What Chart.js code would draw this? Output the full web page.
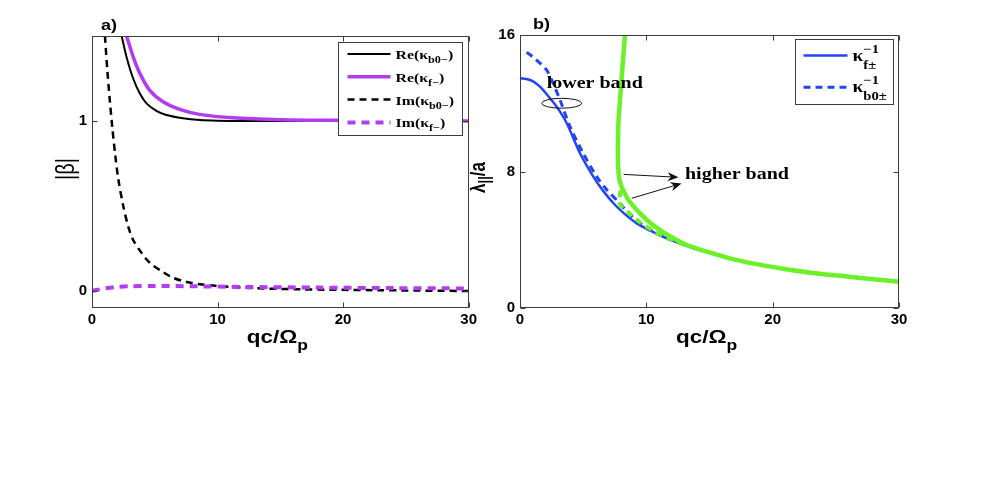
<!DOCTYPE html>
<html>
<head>
<meta charset="utf-8">
<script src="https://cdn.jsdelivr.net/npm/chart.js"></script>
<style>
  body { margin: 0; background: #fff; width: 981px; height: 491px; position: relative; overflow: hidden; }
  canvas { position: absolute; top: 0; }
  #chartA { left: 0; }
  #chartB { left: 470px; }
</style>
</head>
<body>
<canvas id="chartA" width="480" height="491"></canvas>
<canvas id="chartB" width="511" height="491"></canvas>
<script>
// ---- tick labels ----
const xTicks = [0, 10, 20, 30];
const yTicksA = [0, 1];
const yTicksB = [0, 8, 16];

// ---- panel a) |beta| vs qc/Omega_p ----
const labelsA = ['Re(κ_{b0−})', 'Re(κ_{f−})', 'Im(κ_{b0−})', 'Im(κ_{f−})'];
const qcReB0 = [2.36, 2.75, 3.28, 3.81, 4.34, 5.13, 5.93, 7.25, 8.6, 10, 12, 15, 20, 25, 30];
const reB0   = [1.50, 1.377, 1.25, 1.162, 1.104, 1.060, 1.035, 1.016, 1.006, 1.002, 1.0, 1.0, 1.0, 1.0, 1.0];
const qcReF  = [2.75, 3.28, 3.81, 4.6, 5.66, 6.98, 8.57, 11.2, 15.2, 19.1, 24, 30];
const reF    = [1.50, 1.377, 1.28, 1.18, 1.113, 1.068, 1.039, 1.019, 1.008, 1.004, 1.002, 1.0];
const qcImB0 = [1.03, 1.22, 1.42, 1.62, 1.85, 2.09, 2.49, 2.88, 3.28, 3.94, 4.6, 5.53, 6.45, 7.54, 8.6, 9.92, 12.5, 16.5, 22.4, 30];
const imB0   = [1.50, 1.30, 1.12, 0.96, 0.80, 0.66, 0.50, 0.381, 0.30, 0.225, 0.166, 0.117, 0.078, 0.053, 0.04, 0.03, 0.018, 0.01, 0.005, 0.0];
const qcImF  = [0, 0.5, 1, 2, 3, 5, 8, 12, 18, 24, 30];
const imF    = [0, 0.008, 0.015, 0.024, 0.028, 0.03, 0.028, 0.024, 0.02, 0.017, 0.015];

// ---- panel b) lambda_par/a vs qc/Omega_p ----
const labelsB = ['κ^{−1}_{f±}', 'κ^{−1}_{b0±}', 'higher band f', 'higher band b0'];
const qcFLow   = [0, 0.5, 1, 1.58, 2.2, 2.9, 3.7, 4.75, 5.8, 6.6, 7.4, 8.3, 9.24, 10.4, 11.6, 12.8, 14];
const lamFLow  = [13.46, 13.42, 13.3, 12.97, 12.45, 11.8, 10.83, 9.07, 7.7, 6.85, 6.14, 5.5, 4.96, 4.5, 4.08, 3.75, 3.45];
const qcB0Low  = [0.53, 1.2, 2.1, 2.6, 3.17, 3.96, 5.0, 6.07, 6.9, 7.9, 8.6, 9.4, 10.5, 11.7, 13, 14];
const lamB0Low = [14.99, 14.6, 13.95, 13.2, 12.19, 10.63, 9.07, 7.7, 6.9, 6.14, 5.55, 5.02, 4.5, 4.07, 3.73, 3.45];
const qcFHigh  = [8.31, 8.1, 7.9, 7.8, 7.75, 7.76, 7.85, 8.05, 8.3, 8.58, 9.0, 9.5, 10.2, 11.08, 12, 13.2, 14.8, 16.6, 18.5, 20.6, 23, 25.9, 28, 30];
const lamFHigh = [16, 14, 12, 11, 9.5, 8.5, 7.6, 7.1, 6.7, 6.33, 5.95, 5.55, 5.05, 4.57, 4.15, 3.69, 3.3, 2.91, 2.6, 2.33, 2.07, 1.84, 1.68, 1.54];
const qcB0High  = [7.95, 7.9, 8.6, 9.4, 10.5, 11.7, 13];
const lamB0High = [6.9, 6.1, 5.58, 5.08, 4.55, 4.1, 3.72];

const SANS = '"Liberation Sans", Arial, Helvetica, sans-serif';
const SERIF = '"Liberation Serif", "Times New Roman", serif';

function pts(xs, ys) { return xs.map((x, i) => ({ x: x, y: ys[i] })); }

// tiny parser for _{sub} and ^{sup}
function parseTex(s) {
  const out = []; let i = 0, buf = '';
  while (i < s.length) {
    const c = s[i];
    if ((c === '_' || c === '^') && s[i + 1] === '{') {
      if (buf) { out.push({ t: buf, k: 'n' }); buf = ''; }
      const j = s.indexOf('}', i);
      out.push({ t: s.slice(i + 2, j), k: c === '_' ? 'sub' : 'sup' });
      i = j + 1;
    } else { buf += c; i++; }
  }
  if (buf) out.push({ t: buf, k: 'n' });
  return out;
}

// draws text with sub/superscripts, stretched horizontally like the original figure
function drawTex(ctx, s, x, y, st, o) {
  o = o || {};
  const segs = parseTex(s);
  ctx.save();
  ctx.translate(x, y);
  ctx.scale(o.sx || 1.25, 1);
  if (o.rot) ctx.rotate(o.rot);
  ctx.fillStyle = '#000';
  ctx.textBaseline = o.baseline || 'alphabetic';
  const items = []; let cx = 0;
  for (let k = 0; k < segs.length; k++) {
    const g = segs[k];
    ctx.font = st[g.k];
    const w = ctx.measureText(g.t).width;
    const dy = g.k === 'sub' ? st.subDy : g.k === 'sup' ? st.supDy : 0;
    items.push({ t: g.t, f: st[g.k], x: cx, dy: dy });
    if (g.k === 'sup' && segs[k + 1] && segs[k + 1].k === 'sub') {
      ctx.font = st.sub;
      const w2 = ctx.measureText(segs[k + 1].t).width;
      items.push({ t: segs[k + 1].t, f: st.sub, x: cx, dy: st.subDy });
      cx += Math.max(w, w2); k++;
    } else cx += w;
  }
  const off = o.align === 'center' ? -cx / 2 : 0;
  for (const it of items) { ctx.font = it.f; ctx.fillText(it.t, it.x + off, it.dy); }
  ctx.restore();
}

// MATLAB style box with inward ticks
const frame = {
  id: 'frame',
  afterDatasetsDraw(chart) {
    const { ctx, chartArea: a, scales: { x, y } } = chart;
    const L = Math.round(a.left) + 0.5, R = Math.round(a.right) - 0.5;
    const T = Math.round(a.top) + 0.5, B = Math.round(a.bottom) - 0.5;
    ctx.save();
    ctx.strokeStyle = '#3c3c3c';
    ctx.lineWidth = 1;
    ctx.strokeRect(L, T, R - L, B - T);
    ctx.beginPath();
    x.ticks.forEach(t => {
      const px = Math.round(x.getPixelForValue(t.value)) + 0.5;
      ctx.moveTo(px, B); ctx.lineTo(px, B - 5);
      ctx.moveTo(px, T); ctx.lineTo(px, T + 5);
    });
    y.ticks.forEach(t => {
      const py = Math.round(y.getPixelForValue(t.value)) + 0.5;
      ctx.moveTo(L, py); ctx.lineTo(L + 5, py);
      ctx.moveTo(R, py); ctx.lineTo(R - 5, py);
    });
    ctx.stroke();
    ctx.restore();
  }
};

// legend with sub/superscripts
const texLegend = {
  id: 'texLegend',
  afterDraw(chart, args, o) {
    if (!o.labels) return;
    const { ctx, chartArea: a } = chart;
    const bx = Math.round(a.right - o.right - o.width) + 0.5, by = Math.round(a.top + o.top) + 0.5;
    ctx.save();
    ctx.fillStyle = '#fff';
    ctx.fillRect(bx, by, o.width, o.height);
    ctx.strokeStyle = '#3c3c3c';
    ctx.lineWidth = 1;
    ctx.strokeRect(bx, by, o.width, o.height);
    o.labels.forEach((lab, i) => {
      const ds = chart.data.datasets[i];
      const ly = by + o.first + i * o.rowH;
      ctx.save();
      ctx.strokeStyle = ds.borderColor;
      ctx.lineWidth = ds.borderWidth;
      ctx.setLineDash(ds.borderDash || []);
      ctx.beginPath();
      ctx.moveTo(bx + o.lineX0, ly); ctx.lineTo(bx + o.lineX1, ly);
      ctx.stroke();
      ctx.restore();
      drawTex(ctx, lab, bx + o.textX, ly + o.textDy, o.font, { sx: 1.22 });
    });
    ctx.restore();
  }
};

function arrow(ctx, x0, y0, x1, y1) {
  const ang = Math.atan2(y1 - y0, x1 - x0), len = 11, hw = 4.5;
  ctx.beginPath(); ctx.moveTo(x0, y0);
  ctx.lineTo(x1 - len * 0.7 * Math.cos(ang), y1 - len * 0.7 * Math.sin(ang)); ctx.stroke();
  ctx.beginPath();
  ctx.moveTo(x1, y1);
  ctx.lineTo(x1 - len * Math.cos(ang) + hw * Math.sin(ang), y1 - len * Math.sin(ang) - hw * Math.cos(ang));
  ctx.lineTo(x1 - len * 0.7 * Math.cos(ang), y1 - len * 0.7 * Math.sin(ang));
  ctx.lineTo(x1 - len * Math.cos(ang) - hw * Math.sin(ang), y1 - len * Math.sin(ang) + hw * Math.cos(ang));
  ctx.closePath(); ctx.fill();
}

// panel letters, axis titles and annotations
const texts = {
  id: 'texts',
  afterDraw(chart, args, o) {
    const { ctx, chartArea: a, scales: { x, y } } = chart;
    const mid = (a.left + a.right) / 2;
    drawTex(ctx, o.letter, a.left + o.letterDx, a.top - 6, { n: 'bold 15px ' + SANS }, { sx: 1.2 });
    drawTex(ctx, 'qc/Ω_{p}', mid - 3, a.bottom + 35,
      { n: 'bold 18px ' + SANS, sub: 'bold 14px ' + SANS, subDy: 7 }, { align: 'center', sx: 1.25 });
    drawTex(ctx, o.yTitle, a.left - o.yTitleDx, (a.top + a.bottom) / 2 + o.yTitleDy, o.yFont,
      { align: 'center', baseline: 'middle', rot: -Math.PI / 2, sx: 1.25 });
    if (o.notes) {
      const f = { n: 'bold 16px ' + SERIF };
      o.notes.texts.forEach(n => drawTex(ctx, n.t, x.getPixelForValue(n.at[0]), y.getPixelForValue(n.at[1]), f, { sx: 1.25 }));
      ctx.save();
      ctx.strokeStyle = '#111'; ctx.fillStyle = '#111'; ctx.lineWidth = 1;
      const e = o.notes.ellipse;
      const ex = x.getPixelForValue(e.at[0]), ey = y.getPixelForValue(e.at[1]);
      ctx.beginPath();
      ctx.ellipse(ex, ey, Math.abs(x.getPixelForValue(e.r[0]) - x.getPixelForValue(0)),
        Math.abs(y.getPixelForValue(e.r[1]) - y.getPixelForValue(0)), 0, 0, Math.PI * 2);
      ctx.stroke();
      o.notes.arrows.forEach(r => arrow(ctx, x.getPixelForValue(r[0]), y.getPixelForValue(r[1]),
        x.getPixelForValue(r[2]), y.getPixelForValue(r[3])));
      ctx.restore();
    }
  }
};

const tickFont = { family: SANS, size: 15, weight: 'bold' };

function options(yMin, yMax, yTicks, yW, padRight, padTop, plugins) {
  return {
    responsive: false,
    animation: false,
    devicePixelRatio: 1,
    layout: { padding: { left: 0, right: padRight, top: padTop, bottom: 0 } },
    elements: { point: { radius: 0 }, line: { tension: 0.3, borderCapStyle: 'butt' } },
    scales: {
      x: {
        type: 'linear', min: 0, max: 30,
        grid: { display: false, drawTicks: false }, border: { display: false },
        ticks: { font: tickFont, color: '#000', padding: 3, maxRotation: 0 },
        afterBuildTicks: s => { s.ticks = xTicks.map(v => ({ value: v })); },
        afterFit: s => { s.height = 183; }
      },
      y: {
        type: 'linear', min: yMin, max: yMax,
        grid: { display: false, drawTicks: false }, border: { display: false },
        ticks: { font: tickFont, color: '#000', padding: 5 },
        afterBuildTicks: s => { s.ticks = yTicks.map(v => ({ value: v })); },
        afterFit: s => { s.width = yW; }
      }
    },
    plugins: Object.assign({ legend: { display: false }, tooltip: { enabled: false } }, plugins)
  };
}

const PURPLE = '#b23cf0';
const BLUE = '#2244f2';
const GREEN = '#6cf02a';

new Chart(document.getElementById('chartA'), {
  type: 'line',
  data: {
    datasets: [
      { label: labelsA[0], data: pts(qcReB0, reB0), borderColor: '#000', borderWidth: 2, order: 2 },
      { label: labelsA[1], data: pts(qcReF, reF), borderColor: PURPLE, borderWidth: 3.5, order: 1 },
      { label: labelsA[2], data: pts(qcImB0, imB0), borderColor: '#000', borderWidth: 2.5, borderDash: [7, 5], order: 3 },
      { label: labelsA[3], data: pts(qcImF, imF), borderColor: PURPLE, borderWidth: 4, borderDash: [8, 6], order: 0 }
    ]
  },
  options: options(-0.1, 1.5, yTicksA, 92, 10, 36, {
    texLegend: {
      labels: labelsA, right: 7, top: 6, width: 124, height: 93, first: 11.5, rowH: 22.8,
      lineX0: 9, lineX1: 52, textX: 57, textDy: 5,
      font: { n: 'bold 13px ' + SERIF, sub: 'bold 10px ' + SERIF, subDy: 4 }
    },
    texts: { letter: 'a)', letterDx: 9, yTitle: '|β|', yTitleDx: 25, yTitleDy: -3, yFont: { n: '20px ' + SANS } }
  }),
  plugins: [frame, texLegend, texts]
});

new Chart(document.getElementById('chartB'), {
  type: 'line',
  data: {
    datasets: [
      { label: labelsB[0], data: pts(qcFLow, lamFLow), borderColor: BLUE, borderWidth: 2.5, order: 3 },
      { label: labelsB[1], data: pts(qcB0Low, lamB0Low), borderColor: BLUE, borderWidth: 3, borderDash: [7, 5], order: 2 },
      { label: labelsB[2], data: pts(qcFHigh, lamFHigh), borderColor: GREEN, borderWidth: 4.5, order: 0 },
      { label: labelsB[3], data: pts(qcB0High, lamB0High), borderColor: GREEN, borderWidth: 4, borderDash: [7, 5], order: 1 }
    ]
  },
  options: options(0, 16, yTicksB, 50, 82, 35, {
    texLegend: {
      labels: labelsB.slice(0, 2), right: 6, top: 4, width: 98, height: 65, first: 16, rowH: 31.7,
      lineX0: 8, lineX1: 52, textX: 57, textDy: 5,
      font: { n: 'bold 16px ' + SERIF, sub: 'bold 12px ' + SERIF, sup: 'bold 12px ' + SERIF, subDy: 8, supDy: -8 }
    },
    texts: {
      letter: 'b)', letterDx: 13, yTitle: 'λ_{||}/a', yTitleDx: 41, yTitleDy: 6,
      yFont: { n: 'bold 17px ' + SANS, sub: 'bold 13px ' + SANS, subDy: 5 },
      notes: {
        texts: [{ t: 'lower band', at: [2.11, 12.88] }, { t: 'higher band', at: [13.06, 7.54] }],
        ellipse: { at: [3.30, 12.0], r: [1.58, 0.29] },
        arrows: [[8.2, 7.83, 12.55, 7.66], [8.84, 6.43, 12.79, 7.3]]
      }
    }
  }),
  plugins: [frame, texLegend, texts]
});
</script>
</body>
</html>
